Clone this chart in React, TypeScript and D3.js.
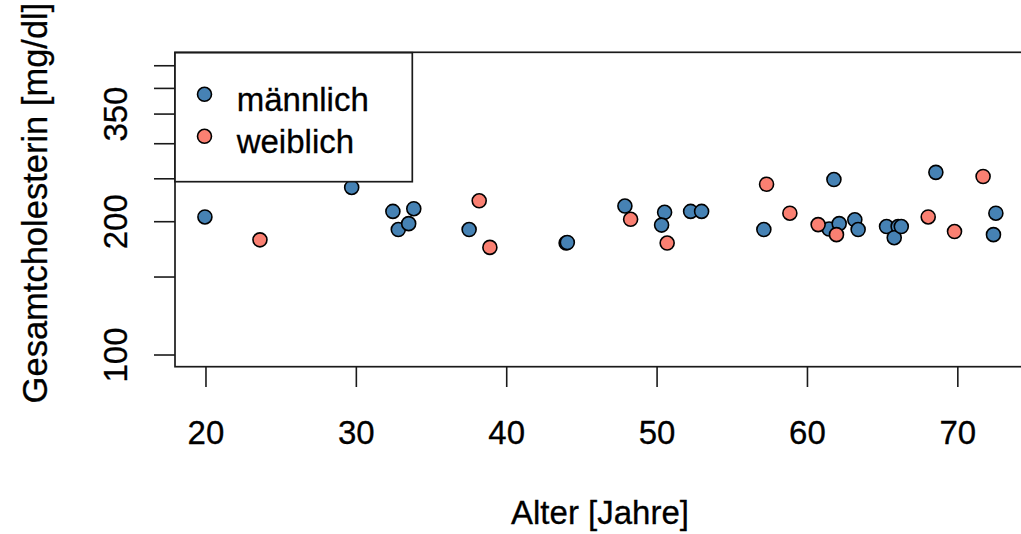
import React from "react";
import * as d3 from "d3";

// Männlich (age, cholesterol)
const maleAge = [19.93, 29.69, 32.43, 33.82, 32.79, 33.48, 37.5, 43.95, 44.03, 47.86, 50.5, 50.3, 52.23, 52.96, 57.1, 61.76, 61.44, 62.11, 63.15, 63.37, 65.26, 66.03, 65.77, 66.24, 68.54, 72.53, 72.37];
const maleChol = [205, 239, 211, 214, 192, 198, 192, 179, 179.5, 217, 210, 196.5, 211, 211, 192, 249, 192.5, 198, 202, 192, 195, 195, 184, 195, 258.5, 209, 187];
// Weiblich
const femaleAge = [23.59, 38.17, 38.88, 48.24, 50.67, 57.28, 58.83, 60.71, 61.93, 68.03, 69.78, 71.68];
const femaleChol = [182, 223, 175, 202.5, 179, 243, 209, 197, 187, 205, 190, 253];

const xTicks = [20, 30, 40, 50, 60, 70];
const yTicks = [100, 150, 200, 250, 300, 350, 400, 450];
const yTickLabels = [100, 200, 350];
const legendLabels = ["männlich", "weiblich"];
const colors = ["#4682B4", "#FA8072"];

const W = 1021;
const H = 534;
const FONT = "'Liberation Sans', Arial, sans-serif";

export default function App() {
  const x = d3.scaleLinear().domain([17.94, 74.6]).range([175, 1027]);
  const y = d3.scaleLog().domain([94.1, 482.6]).range([366.7, 52.3]);
  const left = 175, top = 52.3, bottom = 366.7, right = 1027;
  const ink = "#1a1a1a";
  const r = 7;

  return (
    <svg width={W} height={H} style={{ position: "absolute", left: 0, top: 0, background: "#fff" }} fontFamily={FONT}>
      <rect x={0} y={0} width={W} height={H} fill="#fff" />
      {/* points */}
      {maleAge.map((a, i) => (
        <circle key={"m" + i} cx={x(a)} cy={y(maleChol[i])} r={r} fill={colors[0]} stroke="#000" strokeWidth={1.6} />
      ))}
      {femaleAge.map((a, i) => (
        <circle key={"f" + i} cx={x(a)} cy={y(femaleChol[i])} r={r} fill={colors[1]} stroke="#000" strokeWidth={1.6} />
      ))}
      {/* box */}
      <rect x={left} y={top} width={right - left} height={bottom - top} fill="none" stroke={ink} strokeWidth={1.7} />
      {/* x axis */}
      {xTicks.map((t) => (
        <g key={"xt" + t}>
          <line x1={x(t)} x2={x(t)} y1={bottom} y2={387} stroke={ink} strokeWidth={1.6} />
          <text x={x(t)} y={444} fontSize={33} textAnchor="middle" fill="#000" stroke="#000" strokeWidth={0.3}>{t}</text>
        </g>
      ))}
      {/* y axis */}
      {yTicks.map((t) => (
        <line key={"yt" + t} x1={154} x2={left} y1={y(t)} y2={y(t)} stroke={ink} strokeWidth={1.6} />
      ))}
      {yTickLabels.map((t) => (
        <text key={"yl" + t} transform={`translate(127,${y(t)}) rotate(-90)`} fontSize={33} textAnchor="middle" fill="#000" stroke="#000" strokeWidth={0.3}>{t}</text>
      ))}
      {/* axis titles */}
      <text x={600} y={524} fontSize={33} textAnchor="middle" fill="#000" stroke="#000" strokeWidth={0.3}>Alter [Jahre]</text>
      <text transform={`translate(47,${203}) rotate(-90)`} fontSize={34.5} textAnchor="middle" fill="#000" stroke="#000" strokeWidth={0.3}>Gesamtcholesterin [mg/dl]</text>
      {/* legend */}
      <rect x={left} y={52.7} width={412.3 - left} height={181.7 - 52.7} fill="#fff" stroke={ink} strokeWidth={1.7} />
      {legendLabels.map((l, i) => (
        <g key={"lg" + i}>
          <circle cx={204.5} cy={94.3 + i * 42} r={r} fill={colors[i]} stroke="#000" strokeWidth={1.6} />
          <text x={236.7} y={111 + i * 42} fontSize={33} fill="#000" stroke="#000" strokeWidth={0.3}>{l}</text>
        </g>
      ))}
    </svg>
  );
}
